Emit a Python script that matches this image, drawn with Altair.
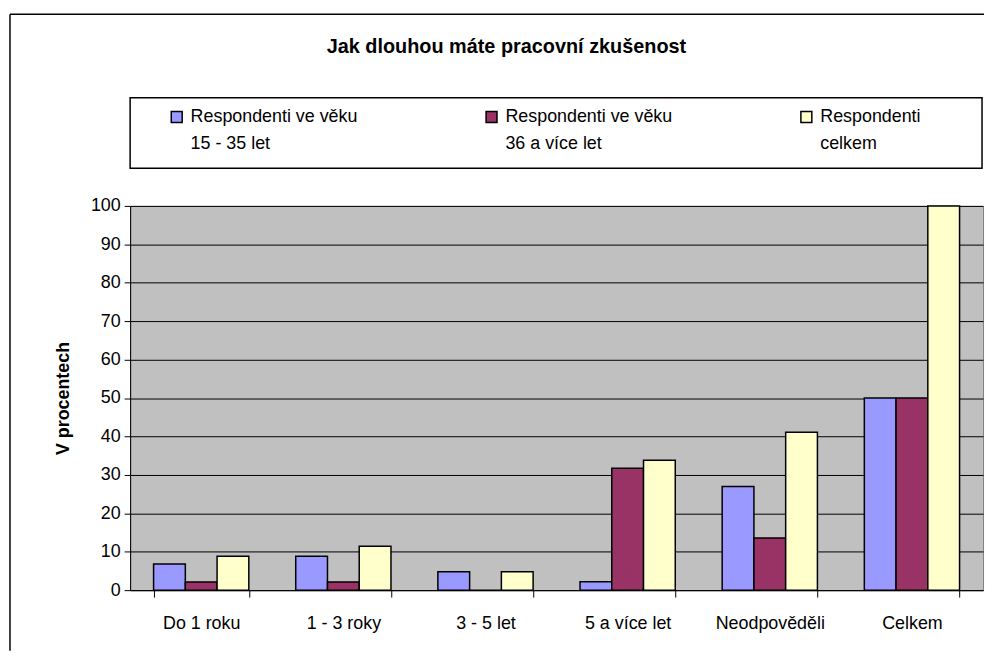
import altair as alt
import pandas as pd

categories = ["Do 1 roku", "1 - 3 roky", "3 - 5 let", "5 a více let", "Neodpověděli", "Celkem"]
series = ["Respondenti ve věku 15 - 35 let", "Respondenti ve věku 36 a více let", "Respondenti celkem"]
legend_labels = ["Respondenti ve věku\n15 - 35 let", "Respondenti ve věku\n36 a více let", "Respondenti\ncelkem"]
colors = ["#9999FF", "#993366", "#FFFFCC"]

young = [6.8, 8.8, 4.8, 2.2, 27.0, 50.0]
older = [2.1, 2.1, 0.0, 31.7, 13.6, 50.0]
total = [8.8, 11.4, 4.8, 33.8, 41.1, 100.0]

rows = []
for s, vals in zip(series, [young, older, total]):
    for c, v in zip(categories, vals):
        rows.append({"category": c, "series": s, "value": v})
df = pd.DataFrame(rows)

leg_df = pd.DataFrame({"series": series, "label": legend_labels})

color_scale = alt.Scale(domain=series, range=colors)

bars = alt.Chart(df).mark_bar(stroke="black", strokeWidth=1.5).encode(
    x=alt.X("category:N", sort=categories,
            scale=alt.Scale(paddingInner=0.33, paddingOuter=0.165),
            axis=alt.Axis(title=None, labelAngle=0, tickBand="extent", tickSize=7,
                          labelPadding=18, grid=False)),
    xOffset=alt.XOffset("series:N", sort=series, scale=alt.Scale(paddingInner=0, paddingOuter=0)),
    y=alt.Y("value:Q", scale=alt.Scale(domain=[0, 100], nice=False),
            axis=alt.Axis(title="V procentech", values=list(range(0, 101, 10)), grid=True,
                          gridColor="black", gridWidth=1, tickSize=6, labelPadding=4,
                          titlePadding=18)),
    color=alt.Color("series:N", scale=color_scale, legend=None),
)

frame_left = alt.Chart(alt.Data(values=[{}])).mark_rule(color="black", strokeWidth=1.5).encode(
    x=alt.value(-121), y=alt.value(-193), y2=alt.value(448))
frame_top = alt.Chart(alt.Data(values=[{}])).mark_rule(color="black", strokeWidth=1.5).encode(
    x=alt.value(-121), x2=alt.value(860), y=alt.value(-193))

bar_chart = alt.layer(bars, frame_left, frame_top).properties(
    width=859, height=387,
    view=alt.ViewBackground(fill="#C0C0C0", stroke="#808080"))

base = alt.Chart(leg_df).encode(
    x=alt.X("series:N", sort=series, scale=alt.Scale(type="point", padding=0.353), axis=None))
sym = base.mark_square(size=121, stroke="black", strokeWidth=1.5, opacity=1,
                       xOffset=-65, yOffset=-16).encode(
    color=alt.Color("series:N", scale=color_scale, legend=None))
txt = base.mark_text(align="left", baseline="middle", lineBreak="\n", lineHeight=27,
                     fontSize=18, dx=-51, dy=-16, color="black").encode(text="label:N")
legend = alt.layer(sym, txt).properties(
    width=858, height=71,
    title=alt.TitleParams("Jak dlouhou máte pracovní zkušenost", fontSize=20, fontWeight="bold",
                          anchor="middle", offset=41, dx=-50, color="black"),
    view=alt.ViewBackground(fill="white", stroke="black", strokeWidth=1.5))

chart = alt.vconcat(legend, bar_chart, spacing=38, bounds="flush").properties(
    padding={"left": 0, "top": 2, "right": 0, "bottom": 0},
).configure(font="Liberation Sans").configure_axis(
    labelFontSize=18, labelColor="black", titleFontSize=18, titleFontWeight="bold",
    titleColor="black", tickColor="black", domainColor="black", labelFont="Liberation Sans",
    titleFont="Liberation Sans")

chart.save("out.html", embed_options={"renderer": "svg", "actions": False})
